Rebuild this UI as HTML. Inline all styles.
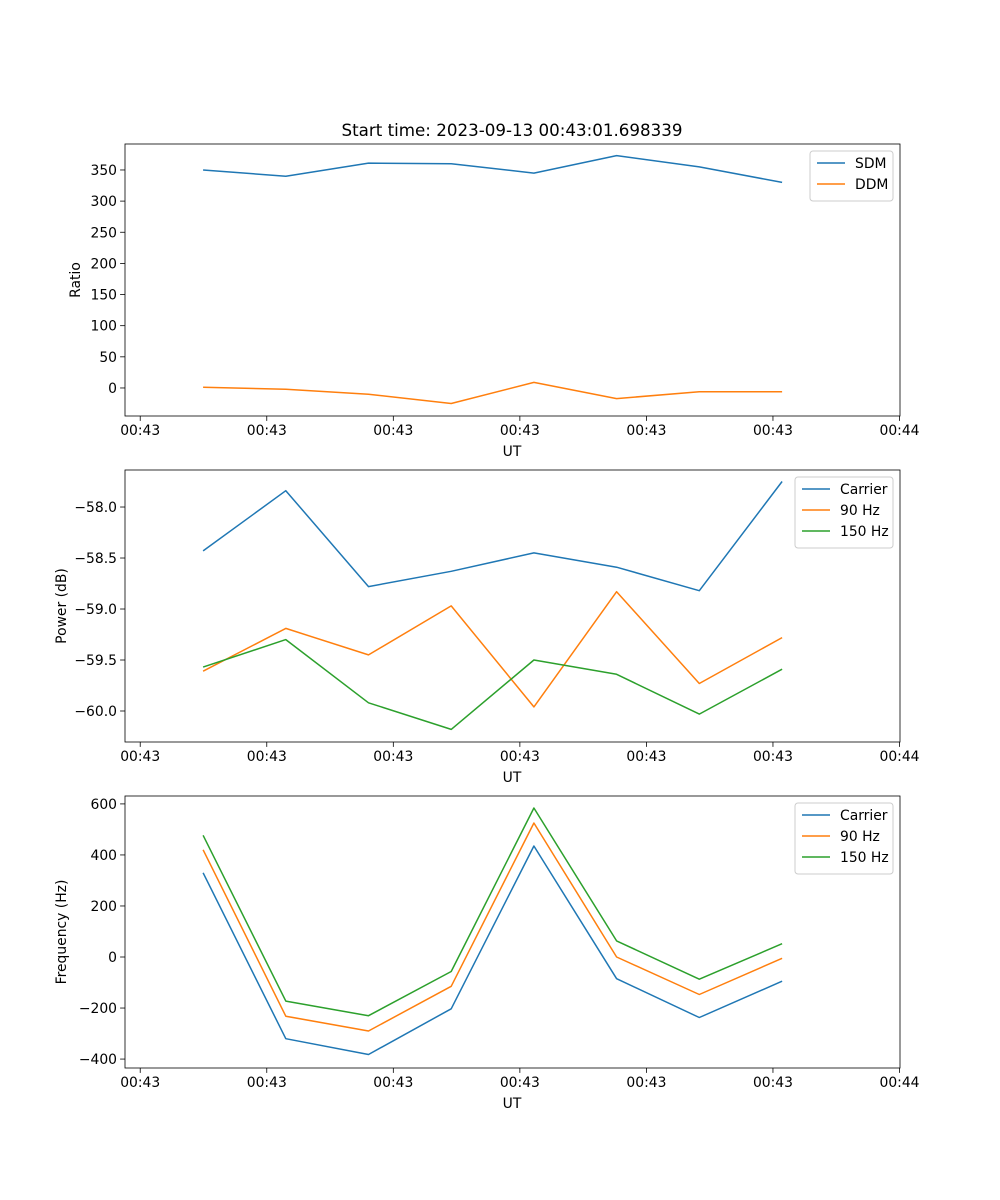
<!DOCTYPE html>
<html><head><meta charset="utf-8">
<style>
html,body{margin:0;padding:0;background:#fff;}
svg{display:block;font-family:"DejaVu Sans","Liberation Sans",sans-serif;}
</style></head>
<body>
<svg id="fig" width="1000" height="1200" viewBox="0 0 1000 1200" xmlns="http://www.w3.org/2000/svg"></svg>
<script>
// ---- data ----
const xIndex = [0,1,2,3,4,5,6,7];
const xTickPos = [-0.76,0.77,2.30,3.83,5.36,6.89,8.42];
const xTickLabels = ["00:43","00:43","00:43","00:43","00:43","00:43","00:44"];
const sdm = [350,340,361,360,345,373,355,330];
const ddm = [1,-2,-10,-25,9,-17,-6,-6];
const powCarrier = [-58.43,-57.84,-58.78,-58.63,-58.45,-58.59,-58.82,-57.75];
const pow90 = [-59.61,-59.19,-59.45,-58.97,-59.96,-58.83,-59.73,-59.28];
const pow150 = [-59.57,-59.30,-59.92,-60.18,-59.50,-59.64,-60.03,-59.59];
const frqCarrier = [330,-320,-382,-203,435,-85,-237,-95];
const frq90 = [420,-232,-290,-115,525,0,-147,-5];
const frq150 = [477,-173,-230,-57,584,63,-87,52];
const ratioTicks = [0,50,100,150,200,250,300,350];
const ratioTickLabels = ["0","50","100","150","200","250","300","350"];
const powTicks = [-60.0,-59.5,-59.0,-58.5,-58.0];
const powTickLabels = ["\u221260.0","\u221259.5","\u221259.0","\u221258.5","\u221258.0"];
const frqTicks = [-400,-200,0,200,400,600];
const frqTickLabels = ["\u2212400","\u2212200","0","200","400","600"];

const NS="http://www.w3.org/2000/svg";
const svg=document.getElementById('fig');
function mk(tag,attrs,parent,text){const e=document.createElementNS(NS,tag);for(const k in attrs)e.setAttribute(k,attrs[k]);if(text!==undefined)e.textContent=text;(parent||svg).appendChild(e);return e;}
const L=125,R=900,XMIN=-0.944,XMAX=8.426;
const xs=v=>L+(v-XMIN)/(XMAX-XMIN)*(R-L);
const C1="#1f77b4",C2="#ff7f0e",C3="#2ca02c";

function panel(name,top,bot,ymin,ymax,yt,ytl,ylabel,series,legend){
  const g=mk('g',{});
  
  
  const ys=v=>bot-(v-ymin)/(ymax-ymin)*(bot-top);
  // x ticks
  xTickPos.forEach((p,i)=>{const x=xs(p);
    const t=mk('line',{x1:x,x2:x,y1:bot,y2:bot+4.9,stroke:'#000','stroke-width':0.8},g);
    
    const lb=mk('text',{x:x,y:bot+19,'font-size':13.9,'text-anchor':'middle'},g,xTickLabels[i]);
    });
  const xl=mk('text',{x:512,y:bot+40,'font-size':13.9,'text-anchor':'middle'},g,'UT');
  
  yt.forEach((v,i)=>{const y=ys(v);
    const t=mk('line',{x1:L-4.9,x2:L,y1:y,y2:y,stroke:'#000','stroke-width':0.8},g);
    
    const lb=mk('text',{x:L-8,y:y+5,'font-size':13.9,'text-anchor':'end'},g,ytl[i]);
    });
  const yx = ylabel==='Ratio'?80:66;
  const yl=mk('text',{x:yx,y:(top+bot)/2,'font-size':13.9,'text-anchor':'middle',transform:`rotate(-90 ${yx} ${(top+bot)/2})`},g,ylabel);
  
  series.forEach(s=>{
    const pts=s.vals.map((v,i)=>xs(xIndex[i]).toFixed(1)+','+ys(v).toFixed(1)).join(' ');
    const p=mk('polyline',{points:pts,fill:'none',stroke:s.c,'stroke-width':1.5,'stroke-linejoin':'round'},g);
    
  });
  const fr=mk('rect',{x:L,y:top,width:R-L,height:bot-top,fill:'none',stroke:'#000','stroke-width':0.8},g);
  
  // legend
  const lg=mk('g',{},g);
  
  const lw=legend.w, lx=R-7-lw, ly=top+7, lh=series.length*21+8;
  mk('rect',{x:lx,y:ly,width:lw,height:lh,rx:3,fill:'#fff','fill-opacity':0.8,stroke:'#ccc','stroke-width':1},lg);
  series.forEach((s,i)=>{const cy=ly+12+i*21;
    const e=mk('g',{},lg);
    
    mk('line',{x1:lx+7,x2:lx+35,y1:cy,y2:cy,stroke:s.c,'stroke-width':1.5},e);
    mk('text',{x:lx+45,y:cy+5,'font-size':13.9},e,s.label);});
}
const tt=mk('text',{x:512,y:136,'font-size':16.7,'text-anchor':'middle'},svg,'Start time: 2023-09-13 00:43:01.698339');


panel('ratio-panel',144,416,-45,391.7,ratioTicks,ratioTickLabels,'Ratio',
 [{vals:sdm,c:C1,n:'sdm-line',label:'SDM'},{vals:ddm,c:C2,n:'ddm-line',label:'DDM'}],{w:83});
panel('power-panel',470,742,-60.304,-57.637,powTicks,powTickLabels,'Power (dB)',
 [{vals:powCarrier,c:C1,n:'carrier-power-line',label:'Carrier'},{vals:pow90,c:C2,n:'90hz-power-line',label:'90 Hz'},{vals:pow150,c:C3,n:'150hz-power-line',label:'150 Hz'}],{w:98});
panel('frequency-panel',796,1068,-435,631,frqTicks,frqTickLabels,'Frequency (Hz)',
 [{vals:frqCarrier,c:C1,n:'carrier-frequency-line',label:'Carrier'},{vals:frq90,c:C2,n:'90hz-frequency-line',label:'90 Hz'},{vals:frq150,c:C3,n:'150hz-frequency-line',label:'150 Hz'}],{w:98});
</script>
</body></html>
